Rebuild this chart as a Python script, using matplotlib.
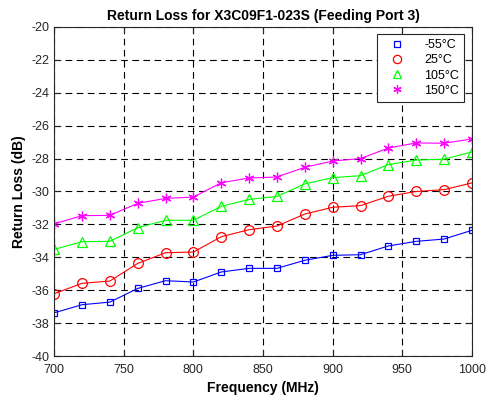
import matplotlib
matplotlib.use('Agg')
from matplotlib import pyplot as plt

plt.rcParams['font.family'] = ['Liberation Sans', 'DejaVu Sans']
plt.rcParams['axes.unicode_minus'] = False

# datos
freq = [700, 720, 740, 760, 780, 800, 820, 840, 860, 880, 900, 920, 940, 960, 980, 1000]
rl_m55 = [-37.37, -36.88, -36.72, -35.89, -35.42, -35.5, -34.89, -34.67,
          -34.67, -34.18, -33.88, -33.84, -33.31, -33.03, -32.89, -32.36]
rl_25 = [-36.21, -35.58, -35.44, -34.37, -33.72, -33.68, -32.75, -32.32,
         -32.1, -31.37, -30.96, -30.86, -30.29, -30.0, -29.89, -29.48]
rl_105 = [-33.52, -33.05, -33.03, -32.2, -31.75, -31.75, -30.9, -30.48,
          -30.3, -29.54, -29.16, -29.04, -28.37, -28.09, -28.04, -27.6]
rl_150 = [-31.96, -31.47, -31.45, -30.72, -30.42, -30.34, -29.47, -29.18,
          -29.12, -28.53, -28.15, -28.0, -27.36, -27.05, -27.07, -26.81]
etiquetas = ['-55°C', '25°C', '105°C', '150°C']

fig = plt.figure(figsize=(4.88, 4.01), dpi=100)
ax = fig.add_axes([0.111, 0.112, 0.856, 0.821])

ax.plot(freq, rl_m55, color='#0000ff', lw=0.8, marker='s', ms=5, mfc='none', mew=0.9, label=etiquetas[0])
ax.plot(freq, rl_25, color='#ff0000', lw=0.8, marker='o', ms=7, mfc='none', mew=0.9, label=etiquetas[1])
ax.plot(freq, rl_105, color='#00ff00', lw=0.8, marker='^', ms=7, mfc='none', mew=0.9, label=etiquetas[2])
ax.plot(freq, rl_150, color='#ff00ff', lw=0.8, marker=(6, 2, 0), ms=7, mew=0.9, label=etiquetas[3])

ax.set_xlim(700, 1000)
ax.set_ylim(-40, -20)
ax.set_xticks(range(700, 1001, 50))
ax.set_yticks(range(-40, -19, 2))
ax.tick_params(direction='in', labelsize=9, length=4, colors='#262626',
               top=True, right=True)
ax.tick_params(axis='x', pad=6)
ax.grid(True, color='black', linestyle=(0, (6, 4)), linewidth=0.8)
for s in ax.spines.values():
    s.set_color('#262626')
    s.set_linewidth(0.8)

ax.set_xlabel('Frequency (MHz)', fontsize=10, fontweight='bold', labelpad=3)
ax.set_ylabel('Return Loss (dB)', fontsize=10, fontweight='bold', labelpad=4)
ax.set_title('Return Loss for X3C09F1-023S (Feeding Port 3)', fontsize=10, fontweight='bold', pad=5)

leg = ax.legend(loc='upper right', fontsize=9, fancybox=False, framealpha=1,
                edgecolor='#262626', handlelength=2.4, borderaxespad=0.6,
                labelspacing=0.25, markerscale=0.85, borderpad=0.4, handletextpad=1.0)
for h in leg.legend_handles:
    h.set_linestyle('none')
leg.get_frame().set_linewidth(0.8)

plt.savefig('out.png', dpi=100)
